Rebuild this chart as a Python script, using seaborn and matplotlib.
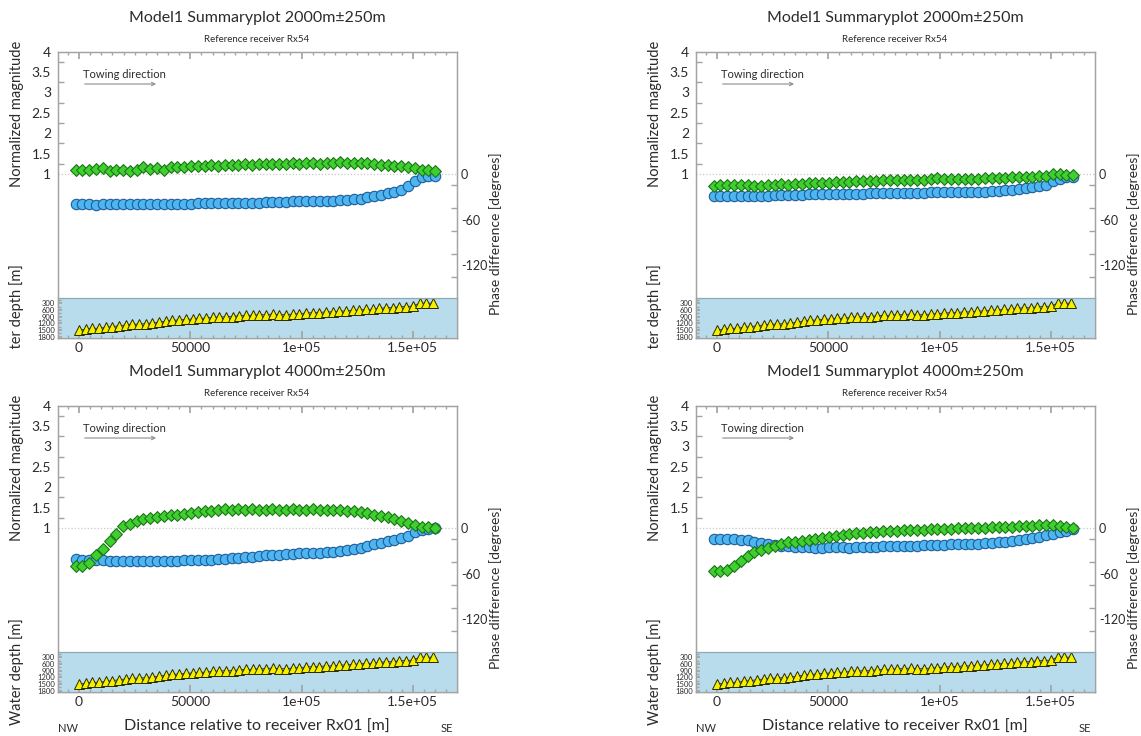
import numpy as np
import matplotlib
matplotlib.use("Agg")
import matplotlib.pyplot as plt
import seaborn as sns
from matplotlib.ticker import MultipleLocator, FixedLocator
from matplotlib.transforms import Bbox, TransformedBbox

sns.set_theme(style="white")
plt.rcParams["font.family"] = ["Lato", "DejaVu Sans"]

# ---------------------------------------------------------------- data
# receiver offsets along the line (m), Rx01 .. Rx54
rx_offset = np.linspace(-1500, 160000, 54)
# bathymetry sample offsets (m)
bathy_offset = np.linspace(0, 159000, 54)

water_depth = [1500, 1470, 1425, 1420, 1380, 1350, 1305, 1275, 1245, 1230,
               1215, 1185, 1155, 1095, 1065, 1050, 1020, 1005, 976, 970,
               931, 915, 900, 900, 856, 840, 840, 811, 811, 781,
               811, 811, 781, 766, 736, 721, 721, 676, 691, 646,
               646, 616, 601, 571, 571, 526, 496, 496, 451, 451,
               420, 300, 290, 300]

titles = ["Model1 Summaryplot 2000m\u00b1250m",
          "Model1 Summaryplot 2000m\u00b1250m",
          "Model1 Summaryplot 4000m\u00b1250m",
          "Model1 Summaryplot 4000m\u00b1250m"]
subtitle = "Reference receiver Rx54"

# normalized magnitude (blue circles)
mag_2000_a = [0.26, 0.26, 0.26, 0.25, 0.26, 0.26, 0.26, 0.26, 0.26, 0.26,
              0.26, 0.27, 0.27, 0.27, 0.27, 0.27, 0.27, 0.27, 0.28, 0.28,
              0.28, 0.29, 0.29, 0.29, 0.30, 0.30, 0.30, 0.30, 0.31, 0.31,
              0.32, 0.32, 0.33, 0.33, 0.33, 0.34, 0.34, 0.34, 0.35, 0.36,
              0.37, 0.38, 0.40, 0.43, 0.46, 0.49, 0.53, 0.56, 0.60, 0.70,
              0.83, 0.93, 0.95, 0.95]
mag_2000_b = [0.47, 0.47, 0.47, 0.46, 0.47, 0.46, 0.47, 0.46, 0.47, 0.48,
              0.48, 0.48, 0.49, 0.49, 0.50, 0.50, 0.50, 0.51, 0.51, 0.51,
              0.52, 0.52, 0.52, 0.53, 0.53, 0.53, 0.53, 0.54, 0.54, 0.54,
              0.54, 0.54, 0.55, 0.55, 0.55, 0.55, 0.55, 0.56, 0.56, 0.56,
              0.57, 0.58, 0.59, 0.60, 0.62, 0.64, 0.66, 0.68, 0.71, 0.74,
              0.82, 0.88, 0.93, 0.93]
mag_4000_a = [0.24, 0.23, 0.23, 0.22, 0.21, 0.20, 0.19, 0.19, 0.19, 0.19,
              0.19, 0.19, 0.19, 0.20, 0.20, 0.20, 0.21, 0.21, 0.22, 0.22,
              0.23, 0.24, 0.25, 0.26, 0.27, 0.28, 0.29, 0.31, 0.33, 0.34,
              0.35, 0.36, 0.37, 0.38, 0.38, 0.39, 0.40, 0.41, 0.42, 0.44,
              0.47, 0.49, 0.52, 0.56, 0.60, 0.64, 0.68, 0.71, 0.75, 0.81,
              0.90, 0.96, 0.99, 1.00]
mag_4000_b = [0.73, 0.74, 0.74, 0.73, 0.72, 0.70, 0.67, 0.64, 0.61, 0.59,
              0.57, 0.55, 0.54, 0.53, 0.53, 0.52, 0.52, 0.53, 0.53, 0.53,
              0.52, 0.53, 0.53, 0.54, 0.54, 0.55, 0.55, 0.56, 0.56, 0.57,
              0.57, 0.58, 0.58, 0.59, 0.59, 0.60, 0.60, 0.61, 0.62, 0.62,
              0.63, 0.64, 0.65, 0.67, 0.69, 0.71, 0.73, 0.76, 0.79, 0.82,
              0.86, 0.90, 0.94, 0.99]

# phase difference in degrees (green diamonds)
phase_2000_a = [5.4, 5.9, 5.4, 6.4, 7.5, 4.3, 5.9, 5.4, 4.3, 5.4,
                9.1, 7.0, 8.0, 5.9, 9.6, 9.1, 9.6, 10.2, 10.2, 10.7,
                11.3, 10.7, 11.8, 11.3, 12.3, 12.9, 12.3, 12.9, 12.9, 13.4,
                13.4, 13.4, 13.9, 13.4, 13.9, 13.9, 13.4, 14.5, 15.0, 15.5,
                14.5, 14.5, 13.9, 13.9, 13.0, 12.5, 12.0, 11.2, 10.3, 9.0,
                7.5, 5.8, 5.0, 4.5]
phase_2000_b = [-15.8, -14.5, -15.0, -14.1, -15.0, -14.1, -15.8, -15.4, -15.0, -14.1,
                -13.6, -14.5, -13.6, -13.2, -12.3, -12.3, -11.9, -11.4, -11.0, -10.1,
                -10.6, -9.2, -9.2, -8.8, -8.8, -8.4, -8.4, -8.0, -8.0, -7.5,
                -7.5, -7.5, -7.0, -5.5, -7.0, -7.0, -6.6, -6.6, -6.2, -6.2,
                -5.7, -5.3, -5.3, -4.8, -4.4, -4.4, -3.5, -3.5, -3.1, -2.6,
                -0.5, -0.5, -1.8, -1.8]
phase_4000_a = [-50.6, -49.7, -46.2, -36.0, -28.0, -17.6, -7.9, 2.2, 5.3, 8.8,
                11.9, 13.2, 14.5, 15.4, 16.7, 17.6, 18.9, 19.8, 21.1, 22.0,
                22.9, 23.8, 25.5, 24.2, 24.6, 24.2, 24.6, 24.2, 24.2, 24.6,
                24.2, 24.2, 24.6, 24.2, 24.2, 24.6, 24.2, 23.8, 23.8, 23.3,
                22.9, 22.0, 20.7, 19.4, 17.6, 15.8, 14.1, 11.9, 9.7, 7.0,
                4.4, 1.8, 0.9, 0.0]
phase_4000_b = [-56.0, -57.0, -55.0, -50.0, -44.0, -37.0, -32.0, -28.5, -26.0, -23.0,
                -21.0, -19.0, -18.0, -17.0, -16.0, -15.0, -13.5, -12.0, -11.0, -9.5,
                -8.0, -7.0, -6.0, -5.5, -5.0, -4.5, -4.0, -3.5, -3.0, -2.5,
                -2.2, -2.0, -1.5, -1.2, -1.0, -1.0, -0.5, -0.5, 0.0, 0.3,
                0.5, 1.0, 1.2, 1.5, 2.0, 2.5, 2.8, 3.2, 3.5, 4.2,
                3.5, 2.5, 1.5, 0.5]

mag_ticks = [1, 1.5, 2, 2.5, 3, 3.5, 4]
mag_tick_labels = ["1", "1.5", "2", "2.5", "3", "3.5", "4"]
phase_ticks = [0, -60, -120]
phase_tick_labels = ["0", "-60", "-120"]
depth_ticks = [300, 600, 900, 1200, 1500, 1800]
dist_ticks = [0, 50000, 100000, 150000]
dist_tick_labels = ["0", "50000", "1e+05", "1.5e+05"]

# ---------------------------------------------------------------- style
W, H = 1141, 736
TEXT = "#2b2b2b"
FRAME = "#a3a3a3"
BLUE_FACE, BLUE_EDGE = "#4db6f2", "#1f5c96"
GREEN_FACE, GREEN_EDGE = "#3fd02f", "#1d7418"
TRI_FACE, TRI_EDGE = "#f4f000", "#2a2a00"
SEA = "#b8dcec"

fig = plt.figure(figsize=(W / 100, H / 100), dpi=100)


def rect(x0, y0, x1, y1):
    return [x0 / W, 1 - y1 / H, (x1 - x0) / W, (y1 - y0) / H]


def style_spines(a):
    for s in a.spines.values():
        s.set_color(FRAME)
        s.set_linewidth(0.9)


def panel(ox, oy, title, mag, phase, bottom_row, clip_row):
    fx0, fx1 = 58 + ox, 456.7 + ox
    fy0, fy1 = 51.7 + oy, 337.7 + oy
    sy0 = 298.3 + oy

    # magnitude axis (left) and phase axis (right)
    ax = fig.add_axes(rect(fx0, fy0, fx1, fy1))
    ax.set_xlim(-9434, 169700)
    ax.set_ylim(-3.01, 4)
    ax2 = ax.twinx()
    ax2.set_ylim(-215.4, 161)
    for a in (ax, ax2):
        style_spines(a)
        a.grid(False)

    ax.axhline(1, color="#c9c9c9", lw=0.9, ls=(0, (1, 1.6)), zorder=1)

    sns.scatterplot(x=rx_offset, y=mag, ax=ax, marker="o", s=56,
                    color=BLUE_FACE, edgecolor=BLUE_EDGE, linewidth=0.8,
                    zorder=3, legend=False)
    sns.scatterplot(x=rx_offset, y=phase, ax=ax2, marker="D", s=36,
                    color=GREEN_FACE, edgecolor=GREEN_EDGE, linewidth=0.8,
                    zorder=3, legend=False)

    ax.xaxis.set_major_locator(FixedLocator(dist_ticks))
    ax.xaxis.set_minor_locator(MultipleLocator(5000))
    ax.tick_params(axis="x", which="both", direction="in", top=True,
                   bottom=False, labelbottom=False, color=FRAME)
    ax.tick_params(axis="x", which="major", length=5)
    ax.tick_params(axis="x", which="minor", length=2.5)

    ax.yaxis.set_major_locator(FixedLocator(mag_ticks))
    ax.set_yticklabels(mag_tick_labels)
    ax.yaxis.set_minor_locator(FixedLocator([1.25, 1.75, 2.25, 2.75, 3.25, 3.75]))
    ax.tick_params(axis="y", which="major", length=0, pad=5,
                   labelsize=10, labelcolor=TEXT, left=True)
    ax.tick_params(axis="y", which="minor", direction="in", length=4,
                   color=FRAME, left=True)

    ax2.yaxis.set_major_locator(FixedLocator(phase_ticks))
    ax2.set_yticklabels(phase_tick_labels)
    ax2.yaxis.set_minor_locator(FixedLocator([-15, -45, -75, -105, -135]))
    ax2.tick_params(axis="y", which="major", length=0, pad=3,
                    labelsize=9, labelcolor=TEXT, right=True)
    ax2.tick_params(axis="y", which="minor", direction="in", length=4,
                    color=FRAME, right=True)

    ax.text(0.063, 0.919, "Towing direction", transform=ax.transAxes,
            fontsize=8, color=TEXT, va="center", ha="left")
    ax.annotate("", xy=(0.253, 0.887), xytext=(0.060, 0.887),
                xycoords="axes fraction",
                arrowprops=dict(arrowstyle="->", color="#8c8c8c", lw=0.8,
                                mutation_scale=6))

    # water-depth strip
    axd = fig.add_axes(rect(fx0, sy0, fx1, fy1))
    axd.set_facecolor(SEA)
    axd.grid(False)
    style_spines(axd)
    axd.spines["top"].set_color("#8fa9b4")
    axd.set_xlim(-9434, 169700)
    axd.set_ylim(1845, 75)
    sns.lineplot(x=bathy_offset, y=water_depth, ax=axd, color="#333333",
                 linewidth=0.6, marker="^", markersize=6.5,
                 markerfacecolor=TRI_FACE, markeredgecolor=TRI_EDGE,
                 markeredgewidth=0.7, legend=False)
    axd.set_xlabel("")
    axd.set_ylabel("")
    axd.xaxis.set_major_locator(FixedLocator(dist_ticks))
    axd.set_xticklabels(dist_tick_labels)
    axd.xaxis.set_minor_locator(MultipleLocator(5000))
    axd.tick_params(axis="x", which="both", direction="in", bottom=True,
                    top=False, color=FRAME, labelsize=10,
                    labelcolor=TEXT, pad=3)
    axd.tick_params(axis="x", which="major", length=5)
    axd.tick_params(axis="x", which="minor", length=2.5)
    axd.yaxis.set_major_locator(FixedLocator(depth_ticks))
    axd.set_yticklabels([str(v) for v in depth_ticks])
    axd.yaxis.set_minor_locator(MultipleLocator(150))
    axd.tick_params(axis="y", which="both", direction="in", left=True,
                    color=FRAME, labelsize=5.5, labelcolor=TEXT, pad=2)
    axd.tick_params(axis="y", which="major", length=3)
    axd.tick_params(axis="y", which="minor", length=2)

    # titles and axis labels
    cx = 257 + ox
    fig.text(cx / W, 1 - (18 + oy) / H, title, ha="center", va="center",
             fontsize=11.5, color=TEXT)
    fig.text(cx / W, 1 - (40 + oy) / H, subtitle, ha="center", va="center",
             fontsize=7, color=TEXT)
    fig.text((17 + ox) / W, 1 - (114 + oy) / H, "Normalized magnitude",
             rotation=90, ha="center", va="center", fontsize=10.5, color=TEXT)
    wd = fig.text((17 + ox) / W, 1 - (318 + oy) / H, "Water depth [m]",
                  rotation=90, ha="center", va="center", fontsize=10.5,
                  color=TEXT)
    if clip_row:
        wd.set_clip_box(TransformedBbox(Bbox([[0, 1 - 350 / H], [1, 1]]),
                                        fig.transFigure))
        wd.set_clip_on(True)
    fig.text((496 + ox) / W, 1 - (234 + oy) / H, "Phase difference [degrees]",
             rotation=90, ha="center", va="center", fontsize=10, color=TEXT)

    if bottom_row:
        fig.text(cx / W, 1 - 727 / H, "Distance relative to receiver Rx01 [m]",
                 ha="center", va="center", fontsize=11.5, color=TEXT)
        fig.text((68 + ox) / W, 1 - 729 / H, "NW", ha="center", va="center",
                 fontsize=8, color=TEXT)
        fig.text((447 + ox) / W, 1 - 729 / H, "SE", ha="center", va="center",
                 fontsize=8, color=TEXT)


panel(0, 0, titles[0], mag_2000_a, phase_2000_a, False, True)
panel(638, 0, titles[1], mag_2000_b, phase_2000_b, False, True)
panel(0, 354, titles[2], mag_4000_a, phase_4000_a, True, False)
panel(638, 354, titles[3], mag_4000_b, phase_4000_b, True, False)

fig.savefig("out.png", dpi=100, facecolor="white")
